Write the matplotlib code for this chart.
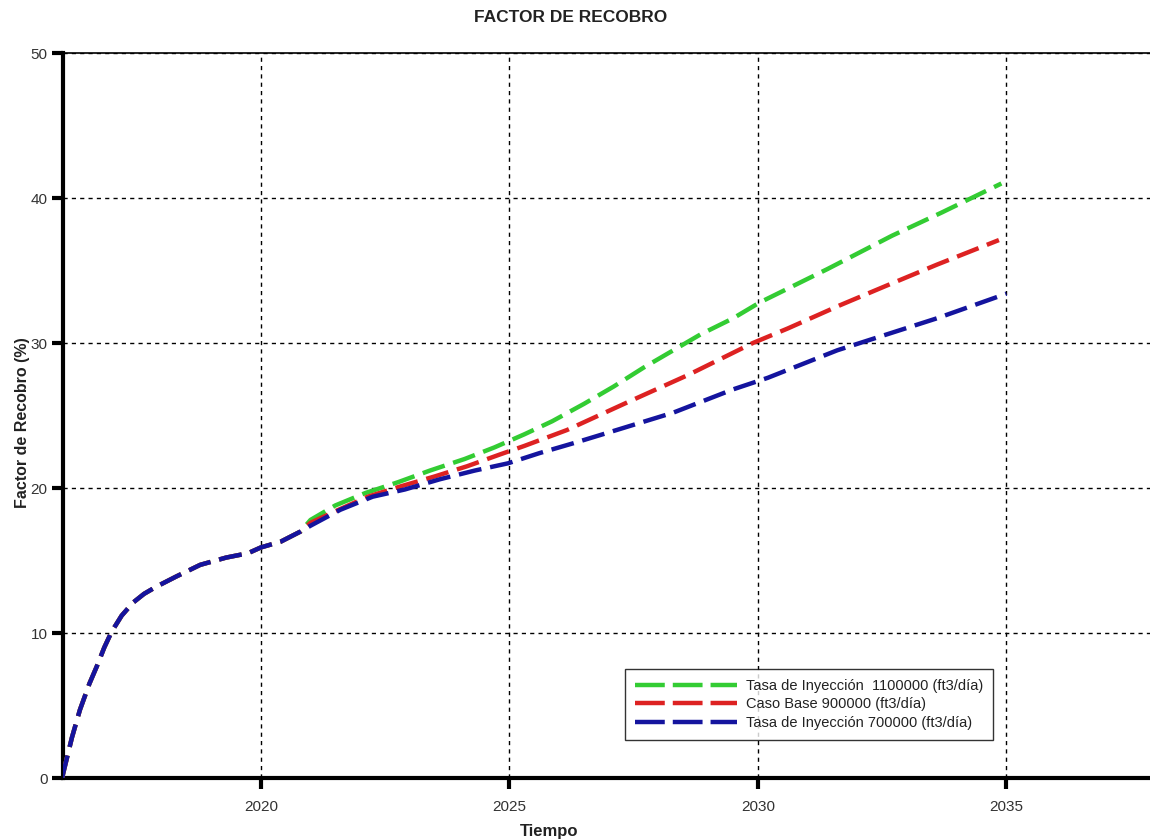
import matplotlib
matplotlib.use("Agg")
import matplotlib.pyplot as plt
from matplotlib.lines import Line2D

plt.rcParams['font.family'] = ['Liberation Sans', 'DejaVu Sans']

# Shared history (all cases identical until ~2020.8)
base_years = [2016.0, 2016.2, 2016.36, 2016.55, 2016.7, 2016.85, 2017.0, 2017.2, 2017.43,
              2017.65, 2017.9, 2018.3, 2018.78, 2019.3, 2019.74, 2020.0, 2020.4, 2020.8]
base_vals = [0.0, 2.8, 4.7, 6.5, 7.7, 9.0, 10.1, 11.2, 12.1,
             12.7, 13.2, 13.9, 14.7, 15.2, 15.5, 15.9, 16.3, 17.0]

# Tasa de Inyección 1100000
green_years = [2021.0, 2021.5, 2022.1, 2022.76, 2023.4, 2024.1, 2024.7, 2025.3, 2025.86,
               2026.5, 2027.1, 2027.7, 2028.3, 2028.85, 2029.5, 2030.04, 2031.4, 2032.7, 2033.7, 2034.9]
green_vals = [17.8, 18.8, 19.65, 20.4, 21.2, 22.0, 22.8, 23.7, 24.6,
              25.8, 27.0, 28.3, 29.5, 30.6, 31.7, 32.8, 35.1, 37.4, 39.0, 41.0]

# Caso Base 900000
red_years = [2021.0, 2021.5, 2022.15, 2022.8, 2023.5, 2024.15, 2024.8, 2025.3, 2026.16,
             2027.37, 2028.6, 2029.9, 2030.6, 2031.65, 2032.55, 2033.6, 2034.85]
red_vals = [17.6, 18.4, 19.4, 20.1, 20.8, 21.5, 22.3, 22.9, 24.0,
            25.9, 27.8, 30.0, 31.0, 32.6, 33.9, 35.4, 37.1]

# Tasa de Inyección 700000
blue_years = [2021.0, 2021.6, 2022.25, 2022.9, 2023.6, 2024.3, 2024.97, 2025.6, 2026.3,
              2026.97, 2028.3, 2029.5, 2030.2, 2031.6, 2033.6, 2035.0]
blue_vals = [17.4, 18.5, 19.4, 19.9, 20.6, 21.2, 21.7, 22.4, 23.1,
             23.8, 25.2, 26.8, 27.6, 29.5, 31.7, 33.4]

labels = ["Tasa de Inyección  1100000 (ft3/día)",
          "Caso Base 900000 (ft3/día)",
          "Tasa de Inyección 700000 (ft3/día)"]
colors = ["#33cc33", "#dd2222", "#14149e"]

x_ticks = [2020, 2025, 2030, 2035]
y_ticks = [0, 10, 20, 30, 40, 50]

fig = plt.figure(figsize=(11.5, 8.4), dpi=100)
ax = fig.add_axes([0.0548, 0.0738, 0.9452, 0.8631])

lw = 3.2
ls = (0, (5.2, 2.0))
series = [(green_years, green_vals), (red_years, red_vals), (blue_years, blue_vals)]
for (yrs, vals), lab, col in zip(series, labels, colors):
    ax.plot(base_years + yrs, base_vals + vals, color=col, lw=lw, linestyle=ls,
            label=lab, zorder=3)

ax.set_xlim(2016.02, 2037.89)
ax.set_ylim(0, 50)
ax.set_xticks(x_ticks)
ax.set_yticks(y_ticks)
ax.grid(True, color='black', linestyle=(0, (3, 3)), linewidth=1.0, zorder=1)

for s in ['left', 'bottom']:
    ax.spines[s].set_linewidth(3)
ax.spines['top'].set_linewidth(1.2)
ax.spines['right'].set_visible(False)
ax.tick_params(axis='both', direction='out', length=8, width=3, labelsize=11,
               labelcolor='#333333')
ax.tick_params(axis='x', pad=8)
ax.tick_params(axis='y', pad=3)

fig.text(571 / 1150, 1 - 18 / 840, "FACTOR DE RECOBRO", fontsize=12.5, fontweight='bold',
         color='#222222', ha='center', va='center')
ax.set_xlabel("Tiempo", fontsize=12, fontweight='bold', color='#222222')
ax.xaxis.set_label_coords(0.447, -0.064)
ax.set_ylabel("Factor de Recobro (%)", fontsize=11.5, fontweight='bold', color='#222222')
ax.yaxis.set_label_coords(-0.030, 0.49)

handles = [Line2D([], [], color=c, lw=lw, linestyle=(0, (6.7, 1.8))) for c in colors]
leg = ax.legend(handles, labels, loc='lower left', bbox_to_anchor=(0.517, 0.0524),
                fontsize=10.5, handlelength=7.0, frameon=True, fancybox=False,
                edgecolor='black', borderpad=0.7, labelspacing=0.3, handletextpad=0.6,
                borderaxespad=0)
leg.get_frame().set_linewidth(1.0)
for t in leg.get_texts():
    t.set_color('#222222')

fig.savefig("out.png", dpi=100)
